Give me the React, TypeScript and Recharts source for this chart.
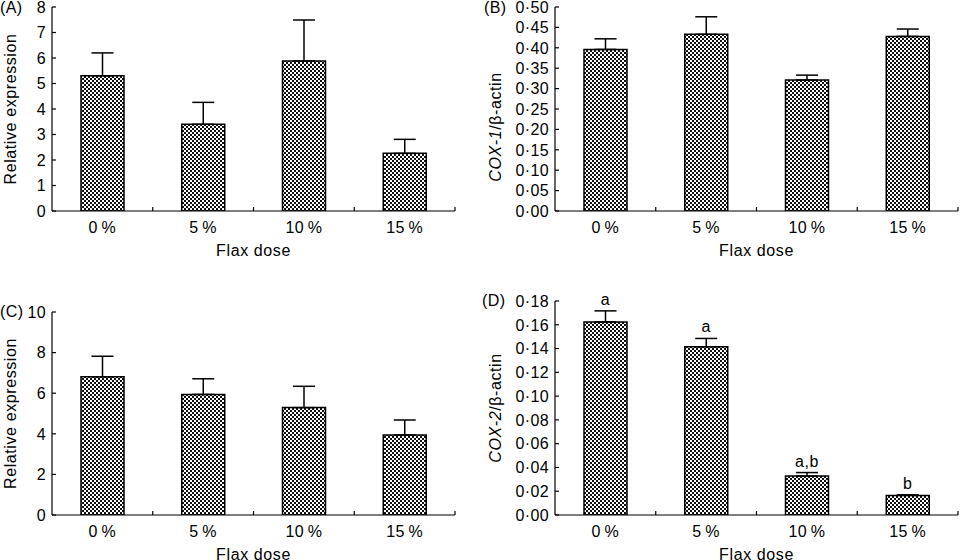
import React from 'react'
import { BarChart, Bar, XAxis, YAxis, ErrorBar, LabelList } from 'recharts'

const DOSES = ['0\u2009%', '5\u2009%', '10\u2009%', '15\u2009%']

// (A) relative expression, top left
const A_MEAN = [5.3, 3.4, 5.88, 2.26]
const A_SE = [0.9, 0.86, 1.61, 0.55]
const A_TICKS = [0, 1, 2, 3, 4, 5, 6, 7, 8]

// (B) COX-1/β-actin
const B_MEAN = [0.396, 0.433, 0.321, 0.428]
const B_SE = [0.026, 0.043, 0.012, 0.018]
const B_TICKS = [0, 0.05, 0.1, 0.15, 0.2, 0.25, 0.3, 0.35, 0.4, 0.45, 0.5]

// (C) relative expression, bottom left
const C_MEAN = [6.81, 5.94, 5.29, 3.94]
const C_SE = [1.01, 0.77, 1.05, 0.74]
const C_TICKS = [0, 2, 4, 6, 8, 10]

// (D) COX-2/β-actin
const D_MEAN = [0.1624, 0.1415, 0.0327, 0.0165]
const D_SE = [0.0093, 0.007, 0.003, 0.0005]
const D_LETTERS = ['a', 'a', 'a,b', 'b']
const D_TICKS = [0, 0.02, 0.04, 0.06, 0.08, 0.1, 0.12, 0.14, 0.16, 0.18]

const FONT = '"Liberation Sans", Arial, Helvetica, sans-serif'
const TEXT = { fontFamily: FONT, fontSize: 16, letterSpacing: 0.6, fill: '#000' }
const TICK_TEXT = { ...TEXT, letterSpacing: 0.4 }

const intFmt = (v: number) => String(v)
const dotFmt = (v: number) => v.toFixed(2).replace('.', '·')

function buildRows(mean: number[], se: number[], letters?: string[]) {
  return DOSES.map((dose, i) => ({
    dose,
    value: mean[i],
    err: [0, se[i]],
    se: se[i],
    letter: letters ? letters[i] : '',
  }))
}

function YTick(props: any) {
  const { x, y, payload, fmt } = props
  return (
    <g>
      <line x1={x} x2={x + 4} y1={y} y2={y} stroke="#000" strokeWidth={1.2} />
      <text x={x - 6} y={y} dy="0.36em" textAnchor="end" {...TICK_TEXT}>
        {fmt(payload.value)}
      </text>
    </g>
  )
}

function XTick(props: any) {
  const { x, y, payload } = props
  const edge = x + (payload.offset ?? 0)
  return (
    <g>
      <line x1={edge} x2={edge} y1={y} y2={y - 4} stroke="#000" strokeWidth={1.2} />
      <text x={x} y={y + 22} textAnchor="middle" {...TICK_TEXT}>
        {payload.value}
      </text>
    </g>
  )
}

type PanelProps = {
  id: string
  left: number
  top: number
  rows: any[]
  domain: [number, number]
  ticks: number[]
  fmt: (v: number) => string
  yWidth: number
  right: number
  marginTop: number
  xHeight: number
  yLabel: React.ReactNode
  labelX: number
  labelDy: number
  letters?: boolean
}

function Panel(p: PanelProps) {
  const renderLetter = (lp: any) => {
    const { x, y, width, height, index } = lp
    const row = p.rows[index]
    const perUnit = row.value ? height / row.value : 0
    const top = y - row.se * perUnit
    return (
      <text x={x + width / 2} y={top - 6} textAnchor="middle" {...TEXT}>
        {row.letter}
      </text>
    )
  }

  return (
    <div style={{ position: 'absolute', left: p.left, top: p.top }}>
      <BarChart
        width={480}
        height={280}
        data={p.rows}
        margin={{ top: p.marginTop, right: p.right, left: 0, bottom: 0 }}
        barSize={43}
      >
        <defs>
          <pattern id={p.id} width={4} height={4} patternUnits="userSpaceOnUse">
            <rect width={4} height={4} fill="#fff" />
            <rect x={0} y={0} width={2} height={2} fill="#111" />
            <rect x={2} y={2} width={2} height={2} fill="#111" />
          </pattern>
        </defs>
        <XAxis
          dataKey="dose"
          height={p.xHeight}
          tickLine={false}
          tickSize={0}
          tickMargin={0}
          axisLine={{ stroke: '#000', strokeWidth: 1.2 }}
          tick={<XTick />}
          interval={0}
          label={{
            content: (lp: any) => {
              const vb = lp.viewBox
              return (
                <text x={vb.x + vb.width / 2} y={vb.y + 45} textAnchor="middle" {...TEXT}>
                  Flax dose
                </text>
              )
            },
          }}
        />
        <YAxis
          width={p.yWidth}
          domain={p.domain}
          ticks={p.ticks}
          interval={0}
          allowDataOverflow
          tickLine={false}
          tickSize={0}
          tickMargin={0}
          axisLine={{ stroke: '#000', strokeWidth: 1.2 }}
          tick={<YTick fmt={p.fmt} />}
          label={{
            content: (lp: any) => {
              const vb = lp.viewBox
              const cx = vb.x + p.labelX
              const cy = vb.y + vb.height / 2 + p.labelDy
              return (
                <text
                  x={cx}
                  y={cy}
                  textAnchor="middle"
                  dominantBaseline="central"
                  transform={`rotate(-90 ${cx} ${cy})`}
                  {...TEXT}
                >
                  {p.yLabel}
                </text>
              )
            },
          }}
        />
        <Bar
          dataKey="value"
          fill={`url(#${p.id})`}
          stroke="#000"
          strokeWidth={1.5}
          isAnimationActive={false}
        >
          <ErrorBar dataKey="err" width={11} stroke="#000" strokeWidth={1.5} direction="y" />
          {p.letters ? <LabelList dataKey="letter" content={renderLetter} /> : null}
        </Bar>
      </BarChart>
    </div>
  )
}

function Tag({ text, left, top }: { text: string; left: number; top: number }) {
  return (
    <div
      style={{
        position: 'absolute',
        left,
        top,
        fontFamily: FONT,
        fontSize: 16,
        letterSpacing: 0.4,
        lineHeight: '16px',
        color: '#000',
      }}
    >
      {text}
    </div>
  )
}

export default function App() {
  return (
    <div
      style={{
        position: 'absolute',
        left: 0,
        top: 0,
        width: 960,
        height: 560,
        background: '#fff',
        overflow: 'hidden',
      }}
    >
      <Panel
        id="patA"
        left={0}
        top={0}
        rows={buildRows(A_MEAN, A_SE)}
        domain={[0, 8]}
        ticks={A_TICKS}
        fmt={intFmt}
        yWidth={52}
        right={25}
        marginTop={7}
        xHeight={69}
        yLabel="Relative expression"
        labelX={10}
        labelDy={0}
      />
      <Panel
        id="patB"
        left={480}
        top={0}
        rows={buildRows(B_MEAN, B_SE)}
        domain={[0, 0.5]}
        ticks={B_TICKS}
        fmt={dotFmt}
        yWidth={75}
        right={2}
        marginTop={7}
        xHeight={69}
        yLabel={
          <>
            <tspan fontStyle="italic">COX-1</tspan>
            <tspan>/β-actin</tspan>
          </>
        }
        labelX={15}
        labelDy={18}
      />
      <Panel
        id="patC"
        left={0}
        top={280}
        rows={buildRows(C_MEAN, C_SE)}
        domain={[0, 10]}
        ticks={C_TICKS}
        fmt={intFmt}
        yWidth={52}
        right={25}
        marginTop={32}
        xHeight={45}
        yLabel="Relative expression"
        labelX={10}
        labelDy={0}
      />
      <Panel
        id="patD"
        left={480}
        top={280}
        rows={buildRows(D_MEAN, D_SE, D_LETTERS)}
        domain={[0, 0.18]}
        ticks={D_TICKS}
        fmt={dotFmt}
        yWidth={75}
        right={2}
        marginTop={21}
        xHeight={45}
        yLabel={
          <>
            <tspan fontStyle="italic">COX-2</tspan>
            <tspan>/β-actin</tspan>
          </>
        }
        labelX={15}
        labelDy={0}
        letters
      />
      <Tag text="(A)" left={0} top={0} />
      <Tag text="(B)" left={484} top={0} />
      <Tag text="(C)" left={0} top={304} />
      <Tag text="(D)" left={482} top={293} />
    </div>
  )
}
